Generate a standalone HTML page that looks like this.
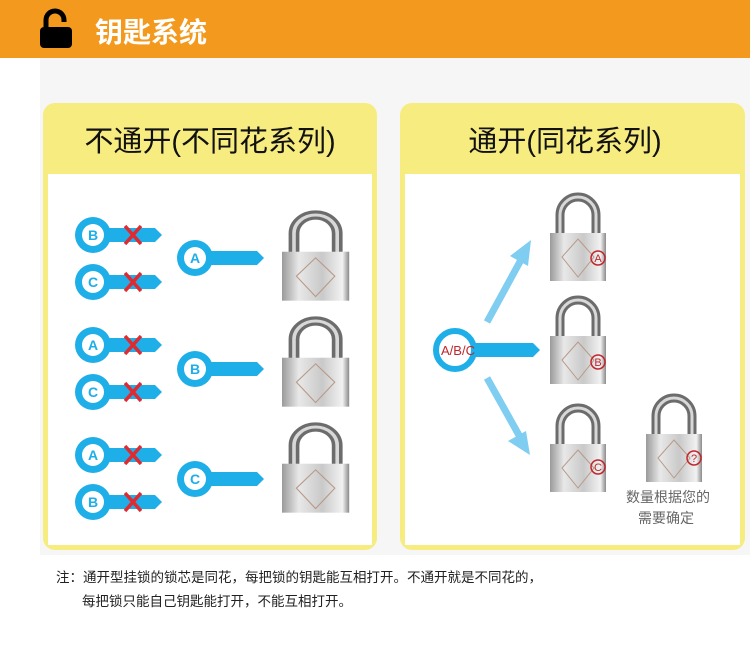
<!DOCTYPE html>
<html><head><meta charset="utf-8"><style>
body{margin:0;width:750px;height:649px;overflow:hidden;background:#fff;font-family:"Liberation Sans","Noto Sans CJK SC",sans-serif}
</style></head><body>
<svg width="750" height="649" viewBox="0 0 750 649" xmlns="http://www.w3.org/2000/svg" font-family="Liberation Sans, Noto Sans CJK SC, sans-serif">
<defs>
<linearGradient id="body" x1="0" x2="1" y1="0" y2="0">
<stop offset="0" stop-color="#9a9a9a"/><stop offset="0.25" stop-color="#e8e8e8"/><stop offset="0.6" stop-color="#c9c9c9"/><stop offset="0.9" stop-color="#f2f2f2"/><stop offset="1" stop-color="#8a8a8a"/>
</linearGradient>
<g id="lock">
<path d="M10 38 V18 A18 18 0 0 1 46 18 V38" fill="none" stroke="#6c6c6c" stroke-width="9"/>
<path d="M10 38 V18 A18 18 0 0 1 46 18 V38" fill="none" stroke="#d8d8d8" stroke-width="3"/>
<rect x="0" y="36" width="56" height="48" fill="url(#body)"/>
<path d="M28 42 L44 60 L28 80 L12 60 Z" fill="none" stroke="#b89a88" stroke-width="1"/>
</g>
<g id="key">
<circle cx="0" cy="0" r="18" fill="#1eaee8"/>
<circle cx="0" cy="0" r="11" fill="#fff"/>
<path d="M14 -7 H62 L69 0 L62 7 H14 Z" fill="#1eaee8"/>
</g>
<g id="x"><path d="M-8 -9 L8 9 M8 -9 L-8 9" stroke="#e02a30" stroke-width="3.5"/></g>
</defs>
<rect x="0" y="0" width="750" height="58" fill="#f39a1e"/>
<path d="M46 28 V20 A9 9 0 0 1 64 20 V22" fill="none" stroke="#000" stroke-width="5"/>
<rect x="40" y="27" width="32" height="21" rx="4" fill="#000"/>
<text x="95" y="42" font-size="28" font-weight="bold" fill="#fff">钥匙系统</text>
<rect x="40" y="58" width="710" height="497" fill="#f6f6f7"/>
<rect x="43" y="103" width="334" height="447" rx="12" fill="#f7ec80"/>
<rect x="48" y="174" width="324" height="371" fill="#fff"/>
<text x="210" y="151" font-size="29" text-anchor="middle" fill="#111">不通开(不同花系列)</text>
<rect x="400" y="103" width="345" height="447" rx="12" fill="#f7ec80"/>
<rect x="405" y="174" width="335" height="371" fill="#fff"/>
<text x="565" y="151" font-size="29" text-anchor="middle" fill="#111">通开(同花系列)</text>
<g font-size="14" font-weight="bold" fill="#1eaee8" text-anchor="middle">
<use href="#key" x="93" y="235"/><text x="93" y="240">B</text><use href="#x" x="133" y="235"/>
<use href="#key" x="93" y="282"/><text x="93" y="287">C</text><use href="#x" x="133" y="282"/>
<use href="#key" x="195" y="258"/><text x="195" y="263">A</text>
<use href="#key" x="93" y="345"/><text x="93" y="350">A</text><use href="#x" x="133" y="345"/>
<use href="#key" x="93" y="392"/><text x="93" y="397">C</text><use href="#x" x="133" y="392"/>
<use href="#key" x="195" y="369"/><text x="195" y="374">B</text>
<use href="#key" x="93" y="455"/><text x="93" y="460">A</text><use href="#x" x="133" y="455"/>
<use href="#key" x="93" y="502"/><text x="93" y="507">B</text><use href="#x" x="133" y="502"/>
<use href="#key" x="195" y="479"/><text x="195" y="484">C</text>
</g>
<g transform="translate(282,215) scale(1.2,1.02)"><use href="#lock"/></g>
<g transform="translate(282,321) scale(1.2,1.02)"><use href="#lock"/></g>
<g transform="translate(282,427) scale(1.2,1.02)"><use href="#lock"/></g>
<path d="M487 322 L522 258" stroke="#7fcdf0" stroke-width="7"/>
<path d="M531 240 L510 256 L528 266 Z" fill="#7fcdf0"/>
<path d="M487 378 L520 437" stroke="#7fcdf0" stroke-width="7"/>
<path d="M530 455 L508 441 L526 431 Z" fill="#7fcdf0"/>
<path d="M470 343 H533 L540 350 L533 357 H470 Z" fill="#1eaee8"/>
<circle cx="455" cy="350" r="19" fill="#fff" stroke="#1eaee8" stroke-width="6"/>
<text x="458" y="355" font-size="13" fill="#c0262c" text-anchor="middle">A/B/C</text>
<use href="#lock" x="550" y="197"/>
<use href="#lock" x="550" y="300"/>
<use href="#lock" x="550" y="408"/>
<use href="#lock" x="646" y="398"/>
<g fill="none" stroke="#c0262c" stroke-width="1.5"><circle cx="598" cy="258" r="7"/><circle cx="598" cy="362" r="7"/><circle cx="598" cy="467" r="7"/><circle cx="694" cy="458" r="7"/></g>
<g font-size="11" fill="#c0262c" text-anchor="middle"><text x="598" y="262">A</text><text x="598" y="366">B</text><text x="598" y="471">C</text><text x="694" y="462">?</text></g>
<text x="668" y="502" font-size="14" fill="#666" text-anchor="middle">数量根据您的</text>
<text x="666" y="523" font-size="14" fill="#666" text-anchor="middle">需要确定</text>
<text x="56" y="582" font-size="13.5" fill="#222">注：通开型挂锁的锁芯是同花，每把锁的钥匙能互相打开。不通开就是不同花的，</text>
<text x="82" y="606" font-size="13.5" fill="#222">每把锁只能自己钥匙能打开，不能互相打开。</text>
</svg>
</body></html>
